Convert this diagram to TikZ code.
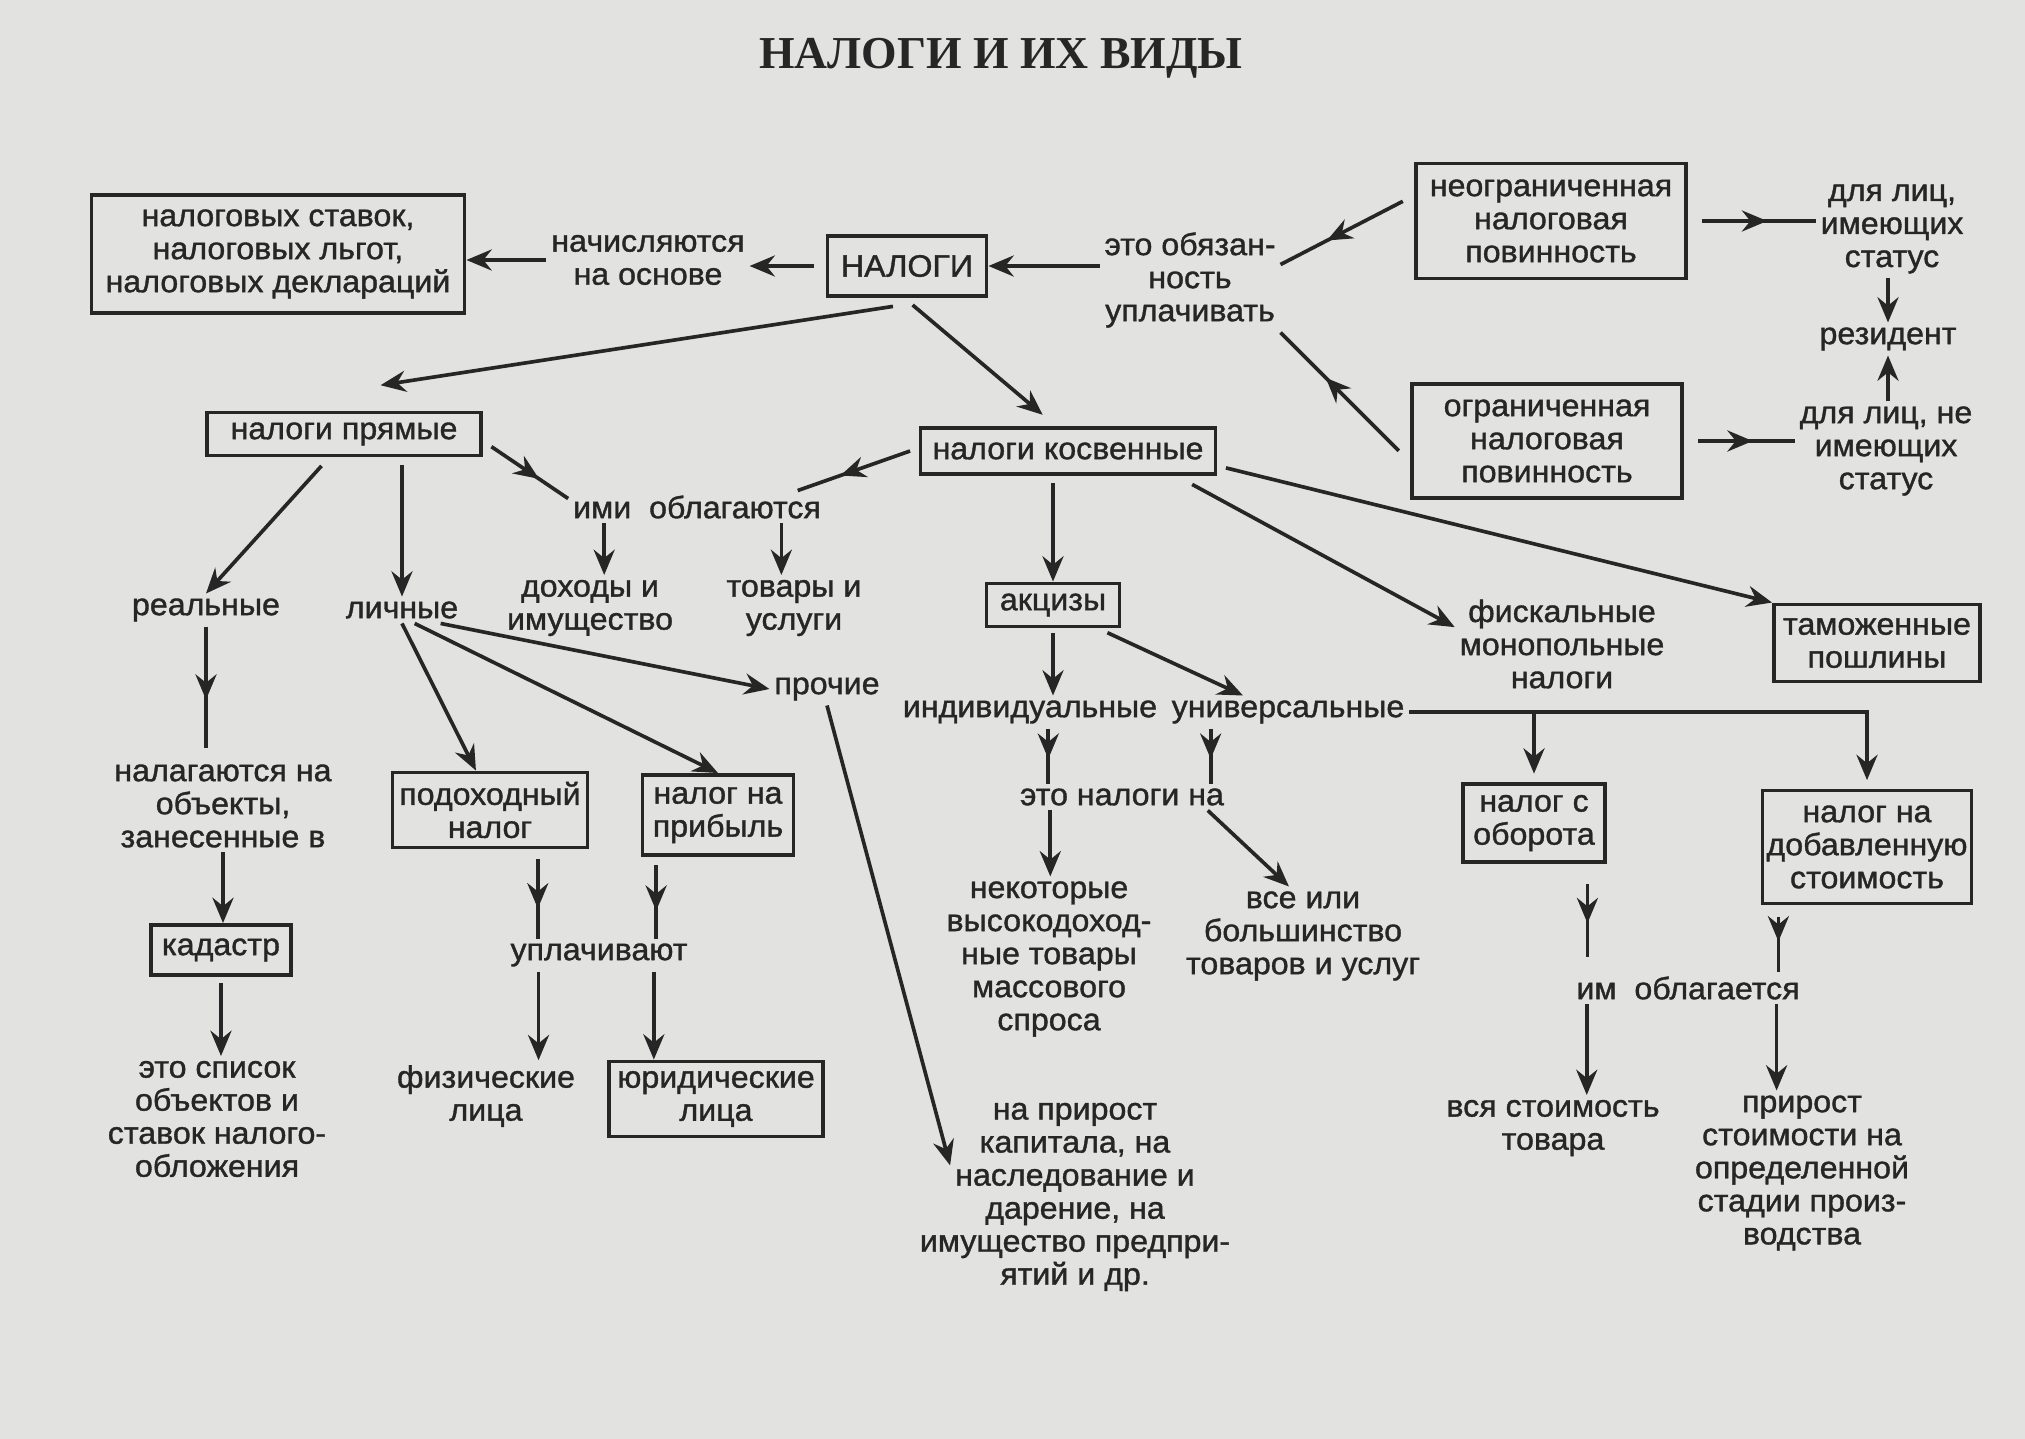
\documentclass[tikz,border=0pt]{standalone}
\usepackage{fontspec}
\setmainfont{Liberation Sans}[FakeBold=1.2, FakeStretch=1.04]
\newfontfamily\titlefont{Liberation Serif}
\usetikzlibrary{arrows.meta}
\usetikzlibrary{decorations.markings}
\newlength{\pxu}\setlength{\pxu}{0.025cm}
\definecolor{paper}{RGB}{226,226,224}
\definecolor{ink}{RGB}{38,38,38}

\begin{document}
\begin{tikzpicture}[x=0.025cm, y=-0.025cm,
 txt/.style={align=center, text=ink, font=\fontsize{22}{23.5}\selectfont},
 taxbox/.style={txt, draw=ink, line width=2.8pt, inner sep=0pt},
 tiparrow/.style={draw=ink, line width=2.6pt, -{Stealth[length=18pt,width=15pt,inset=6pt]}},
 midarrow/.style={draw=ink, line width=2.6pt, postaction={decorate},
  decoration={markings, mark=at position #1 with {\arrow{Stealth[length=18pt,width=15pt,inset=6pt]}}}},
 midarrow/.default=0.62]
\fill[paper] (0,0) rectangle (2025,1439);
\useasboundingbox (0,0) rectangle (2025,1439);
\node[text=ink, font=\titlefont\fontsize{32.5}{36}\bfseries\selectfont] (title) at (1001,58) {НАЛОГИ И ИХ ВИДЫ};
% top row
\node[taxbox, minimum width=373\pxu, minimum height=118\pxu] (stavki) at (278,254) {налоговых ставок,\\налоговых льгот,\\налоговых деклараций};
\node[txt] (nach) at (648,260) {начисляются\\на основе};
\node[taxbox, minimum width=159\pxu, minimum height=60\pxu] (nalogi) at (907,266) {НАЛОГИ};
\node[txt] (obyaz) at (1190,280) {это обязан-\\ность\\уплачивать};
\node[taxbox, minimum width=270\pxu, minimum height=115\pxu] (neogr) at (1551,221) {неограниченная\\налоговая\\повинность};
\node[taxbox, minimum width=270\pxu, minimum height=114\pxu] (ogr) at (1547,441) {ограниченная\\налоговая\\повинность};
\node[txt] (imeyush) at (1892,229) {для лиц,\\имеющих\\статус};
\node[txt] (rezident) at (1888,339) {резидент};
\node[txt] (neimeyush) at (1886,451) {для лиц, не\\имеющих\\статус};
% direct taxes
\node[taxbox, minimum width=274\pxu, minimum height=43\pxu] (pryamye) at (344,434) {налоги прямые};
\node[taxbox, minimum width=295\pxu, minimum height=46\pxu] (kosv) at (1068,451) {налоги косвенные};
\node[txt] (oblag) at (697,507) {ими\ \ облагаются};
\node[txt] (dohody) at (590,608) {доходы и\\имущество};
\node[txt] (tovary) at (794,608) {товары и\\услуги};
\node[txt] (realnye) at (206,610) {реальные};
\node[txt] (lichnye) at (402,610) {личные};
\node[txt] (prochie) at (827,689) {прочие};
\node[txt] (nalag) at (223,806) {налагаются на\\объекты,\\занесенные в};
\node[taxbox, minimum width=140\pxu, minimum height=50\pxu] (kadastr) at (221,950) {кадастр};
\node[txt] (spisok) at (217,1119) {это список\\объектов и\\ставок налого-\\обложения};
\node[taxbox, minimum width=195\pxu, minimum height=75\pxu] (podoh) at (490,810) {подоходный\\налог};
\node[taxbox, minimum width=151\pxu, minimum height=80\pxu] (pribyl) at (718,815) {налог на\\прибыль};
\node[txt] (uplach) at (599,955) {уплачивают};
\node[txt] (fiz) at (486,1096) {физические\\лица};
\node[taxbox, minimum width=214\pxu, minimum height=75\pxu] (yurid) at (716,1099) {юридические\\лица};
\node[txt] (naprirost) at (1075,1197) {на прирост\\капитала, на\\наследование и\\дарение, на\\имущество предпри-\\ятий и др.};
% indirect taxes
\node[taxbox, minimum width=133\pxu, minimum height=43\pxu] (akcizy) at (1053,605) {акцизы};
\node[txt] (individ) at (1030,712) {индивидуальные};
\node[txt] (univers) at (1288,712) {универсальные};
\node[txt] (etonal) at (1122,797) {это налоги на};
\node[txt] (nekot) at (1049,959) {некоторые\\высокодоход-\\ные товары\\массового\\спроса};
\node[txt] (vseili) at (1303,936) {все или\\большинство\\товаров и услуг};
\node[txt] (fiskal) at (1562,644) {фискальные\\монопольные\\налоги};
\node[taxbox, minimum width=206\pxu, minimum height=77\pxu] (tamozh) at (1877,643) {таможенные\\пошлины};
\node[taxbox, minimum width=142\pxu, minimum height=78\pxu] (oborot) at (1534,823) {налог с\\оборота};
\node[taxbox, minimum width=209\pxu, minimum height=113\pxu] (nds) at (1867,847) {налог на\\добавленную\\стоимость};
\node[txt] (imoblag) at (1688,988) {им\ \ облагается};
\node[txt] (vsyast) at (1553,1128) {вся стоимость\\товара};
\node[txt] (prirost) at (1802,1173) {прирост\\стоимости на\\определенной\\стадии произ-\\водства};
% connectors
\draw[tiparrow] (nach.west) -- (nach.west -| stavki.east);
\draw[tiparrow, shorten <=8pt] (nalogi.west) -- (nalogi.west -| nach.east);
\draw[tiparrow] (nalogi.east -| obyaz.west) -- (nalogi.east);
\draw[midarrow] ([xshift=-8pt,yshift=14pt]neogr.west) -- ([yshift=11pt]obyaz.east);
\draw[midarrow] ([xshift=-8pt,yshift=-7pt]ogr.west) -- (obyaz.south east);
\draw[midarrow, shorten <=10pt] (neogr.east) -- (neogr.east -| imeyush.west);
\draw[midarrow, shorten <=10pt] (ogr.east) -- (ogr.east -| neimeyush.west);
\draw[tiparrow] (rezident.north |- imeyush.south) -- (rezident.north);
\draw[tiparrow] (rezident.south |- neimeyush.north) -- (rezident.south);
\draw[tiparrow] ([xshift=-10pt,yshift=-6pt]nalogi.south) -- ([xshift=26pt,yshift=18pt]pryamye.north);
\draw[tiparrow] ([xshift=4pt,yshift=-5pt]nalogi.south) -- ([xshift=-18pt,yshift=8pt]kosv.north);
\draw[midarrow] ([xshift=6pt,yshift=-9pt]pryamye.east) -- ([yshift=6pt]oblag.west);
\draw[midarrow] ([xshift=-6pt]kosv.west) -- ([xshift=-20pt]oblag.north east);
\draw[tiparrow] ([xshift=-66pt]oblag.south) -- ([xshift=-66pt]oblag.south |- dohody.north);
\draw[tiparrow] ([xshift=60pt]oblag.south) -- ([xshift=60pt]oblag.south |- tovary.north);
\draw[tiparrow] ([xshift=-16pt,yshift=-6pt]pryamye.south) -- (realnye.north);
\draw[tiparrow] ([yshift=-5pt]pryamye.south -| lichnye.north) -- (lichnye.north);
\draw[midarrow=0.55, shorten >=8pt] (realnye.south) -- (realnye.south |- nalag.north);
\draw[tiparrow] (nalag.south) -- (nalag.south |- kadastr.north);
\draw[tiparrow] ([yshift=-4pt]kadastr.south) -- (kadastr.south |- spisok.north);
\draw[tiparrow] (lichnye.south) -- ([xshift=-10pt]podoh.north);
\draw[tiparrow] ([xshift=9pt]lichnye.south) -- (pribyl.north);
\draw[tiparrow] ([xshift=-16pt]lichnye.south east) -- (prochie.west);
\draw[tiparrow] (prochie.south) -- ([xshift=25pt,yshift=-48pt]naprirost.north west);
\draw[midarrow] ([xshift=34pt,yshift=-7pt]podoh.south) -- ([xshift=34pt]podoh.south |- uplach.north);
\draw[midarrow] ([xshift=-44pt,yshift=-6pt]pribyl.south) -- ([xshift=-44pt]pribyl.south |- uplach.north);
\draw[tiparrow] ([xshift=-43pt]uplach.south) -- ([xshift=-43pt]uplach.south |- fiz.north);
\draw[tiparrow] ([xshift=39pt]uplach.south) -- ([xshift=39pt]uplach.south |- yurid.north);
\draw[tiparrow] ([yshift=-5pt]akcizy.north |- kosv.south) -- (akcizy.north);
\draw[tiparrow] ([xshift=-18pt,yshift=-6pt]kosv.south east) -- ([yshift=12pt]fiskal.west);
\draw[tiparrow] ([xshift=6pt,yshift=-12pt]kosv.east) -- (tamozh.north west);
\draw[tiparrow] ([yshift=-3pt]akcizy.south) -- (akcizy.south |- individ.north);
\draw[tiparrow] ([xshift=-10pt,yshift=-3pt]akcizy.south east) -- ([xshift=-32pt]univers.north);
\draw[midarrow=0.55] ([xshift=13pt]individ.south) -- ([xshift=13pt]individ.south |- etonal.north);
\draw[midarrow=0.55] ([xshift=-55pt]univers.south) -- ([xshift=-55pt]univers.south |- etonal.north);
\draw[tiparrow] ([xshift=-51pt]etonal.south) -- ([xshift=-51pt]etonal.south |- nekot.north);
\draw[tiparrow] ([xshift=61pt]etonal.south) -- ([xshift=-10pt]vseili.north);
\draw[tiparrow, shorten >=6pt] (univers.east) -| (nds.north);
\draw[tiparrow, shorten >=6pt] (univers.east -| oborot.north) -- (oborot.north);
\draw[midarrow=0.45, shorten >=10pt] ([xshift=38pt,yshift=-14pt]oborot.south) -- ([xshift=38pt]oborot.south |- imoblag.north);
\draw[midarrow=0.45] ([xshift=-63pt,yshift=-8pt]nds.south) -- ([xshift=-63pt]nds.south |- imoblag.north);
\draw[tiparrow] ([xshift=-72pt]imoblag.south) -- ([xshift=-72pt]imoblag.south |- vsyast.north);
\draw[tiparrow] ([xshift=63pt]imoblag.south) -- ([xshift=63pt]imoblag.south |- prirost.north);
\end{tikzpicture}
\end{document}
